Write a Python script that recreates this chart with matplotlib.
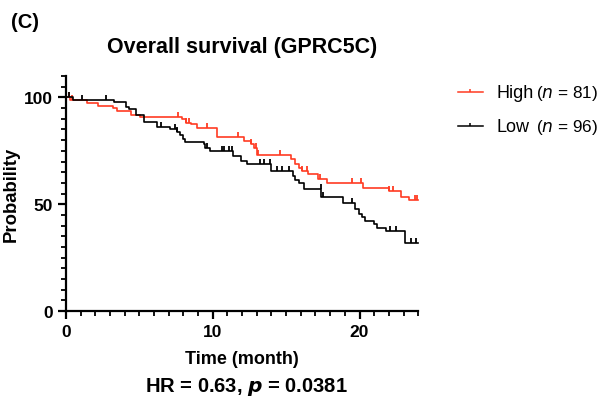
import matplotlib.pyplot as plt
from matplotlib.lines import Line2D
from matplotlib.ticker import MultipleLocator

# Kaplan-Meier steps (time in months, survival in %)
high_t = [0, 0.3, 1.4, 2.2, 3.2, 3.5, 4.4, 5.05, 7.9, 8.2, 8.5, 8.9, 10.3, 12.1, 12.6,
          12.8, 13.0, 15.3, 15.6, 15.9, 16.1, 16.5, 17.2, 17.8, 20.25, 22.0, 22.8, 23.4, 24]
high_s = [100, 99, 97.5, 96, 95, 93.6, 92, 91, 89.7, 88.2, 87.4, 85.8, 81.5, 79.6, 78,
          76.5, 72.9, 71, 68.7, 67.1, 65.6, 64, 62, 59.8, 57.8, 56.2, 53.6, 51.9, 51.9]
high_cens = [0.2, 0.4, 7.6, 8.2, 8.4, 9.6, 11.7, 12.6, 12.95, 13.05, 14.6, 16.1, 16.4,
             17.3, 19.5, 20.1, 22.0, 22.3, 23.8, 23.95]

low_t = [0, 0.5, 3.3, 4.1, 4.3, 4.8, 5.3, 6.2, 7.1, 7.55, 7.8, 8.0, 8.1, 9.4, 9.5, 9.8,
         11.4, 11.9, 12.3, 14.0, 15.3, 15.5, 15.6, 15.9, 16.2, 17.4, 18.9, 19.7, 19.95,
         20.2, 20.4, 21.0, 21.2, 21.8, 23.1, 24]
low_s = [100, 98.7, 97.7, 95.5, 94.4, 92, 88.3, 86.1, 85.4, 83.8, 82.3, 80.7, 79.1, 78,
         76.5, 74.9, 72.6, 70.2, 68.7, 65.6, 65.6, 63.2, 61.5, 60.1, 56.9, 53.3, 50.5,
         47.7, 45.5, 43.9, 42.2, 40.7, 39.1, 37.5, 31.8, 31.8]
low_cens = [0.2, 1.1, 2.7, 6.5, 7.45, 7.55, 9.6, 10.6, 10.8, 11.1, 11.3, 13.2, 13.5, 13.9,
            14.4, 14.7, 15.2, 17.35, 17.5, 19.5, 22.1, 22.5, 23.5, 23.85]

groups = ['High', 'Low']
group_n = [81, 96]

red = '#ff3b22'
tick = [(0, 0), (0, 1)]


def surv_at(ts, ss, t):
    v = ss[0]
    for ti, si in zip(ts, ss):
        if ti <= t:
            v = si
    return v


plt.rcParams['font.family'] = ['Liberation Sans', 'DejaVu Sans']
fig = plt.figure(figsize=(6, 4.1), dpi=100)
ax = fig.add_axes([0.11, 0.239, 0.587, 0.573])

series = [(high_t, high_s, high_cens, red), (low_t, low_s, low_cens, 'black')]
for ts, ss, cens, col in series:
    ax.step(ts, ss, where='post', color=col, lw=1.2, clip_on=False)
    ax.plot(cens, [surv_at(ts, ss, c) for c in cens], ls='none', marker=tick,
            ms=6.5, mew=1.3, mec=col, color=col, clip_on=False)

ax.set_xlim(0, 24)
ax.set_ylim(0, 110)
ax.xaxis.set_major_locator(MultipleLocator(10))
ax.xaxis.set_minor_locator(MultipleLocator(1))
ax.yaxis.set_major_locator(MultipleLocator(50))
ax.yaxis.set_minor_locator(MultipleLocator(5))
for s in ['top', 'right']:
    ax.spines[s].set_visible(False)
for s in ['left', 'bottom']:
    ax.spines[s].set_linewidth(1.6)
ax.tick_params(which='major', length=6, width=1.6, labelsize=12.5)
ax.tick_params(which='minor', length=3.5, width=1.3)
for lab in ax.get_xticklabels() + ax.get_yticklabels():
    lab.set_fontweight('bold')

ax.set_xlabel('Time (month)', fontsize=13, fontweight='bold', labelpad=8)
ax.set_ylabel('Probability', fontsize=13.3, fontweight='bold')
ax.yaxis.set_label_coords(-0.132, 0.5)
ax.set_title('Overall survival (GPRC5C)', fontsize=15.5, fontweight='bold', pad=17)

fig.text(0.41, 0.056, r'HR = 0.63, $\boldsymbol{p}$ = 0.0381', ha='center', va='center',
         fontsize=14.5, fontweight='bold')
fig.text(0.018, 0.945, '(C)', fontsize=14.5, fontweight='bold', va='center')

# legend drawn by hand so the "(n = ..)" part can sit apart from the name
rows_y = [0.773, 0.690]
for (ts, ss, cens, col), name, n, y in zip(series, groups, group_n, rows_y):
    fig.add_artist(Line2D([0.763, 0.805], [y, y], color=col, lw=1.1,
                          transform=fig.transFigure))
    fig.add_artist(Line2D([0.784], [y], ls='none', marker=tick, ms=5, mew=1.1, mec=col,
                          transform=fig.transFigure))
    fig.text(0.828, y, name, fontsize=13, va='center')
    fig.text(0.997, y, r'($\mathit{n}$ = %d)' % n, fontsize=12.3, va='center', ha='right')

fig.savefig('out.png', dpi=100)
